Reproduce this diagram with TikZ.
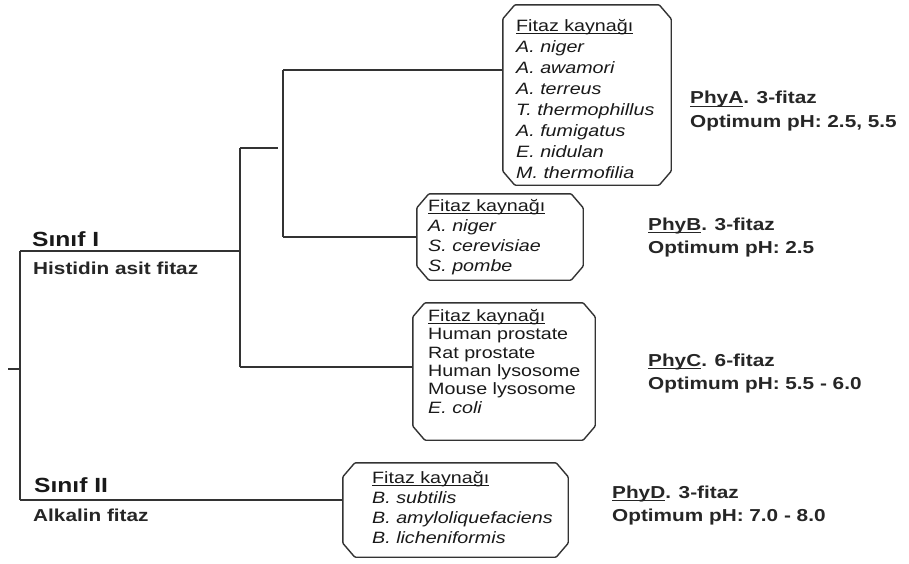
\documentclass[tikz,border=0pt]{standalone}
\usepackage{fontspec}
\setmainfont[FakeStretch=1.2]{Liberation Sans}
\tikzset{
  conn/.style={draw=black!80, line width=1.4pt},
  frame/.style={draw=none, inner sep=0pt},
  boxtext/.style={anchor=north west, inner sep=0pt, align=left, text=black!90},
  lbl/.style={anchor=west, inner sep=0pt, align=left, text=black!85, font=\fontsize{17.3}{23.5}\selectfont\bfseries},
  cls/.style={anchor=west, inner sep=0pt, text=black!90, font=\fontsize{20.5}{24}\selectfont\bfseries},
}
\newcommand\ulin[1]{\setbox0\hbox{#1}\leavevmode\rlap{\rule[-3pt]{\wd0}{1.1pt}}\box0}
\newcommand\chamferbox[1]{%
  \draw[draw=black!80, line width=1.4pt, rounded corners=1pt]
    ([xshift=12pt]#1.north west) -- ([xshift=-12pt]#1.north east) --
    ([yshift=-14pt]#1.north east) -- ([yshift=14pt]#1.south east) --
    ([xshift=-12pt]#1.south east) -- ([xshift=12pt]#1.south west) --
    ([yshift=14pt]#1.south west) -- ([yshift=-14pt]#1.north west) -- cycle;}
\begin{document}
\begin{tikzpicture}[x=1pt,y=-1pt]
\useasboundingbox[fill=white] (0,0) rectangle (909,563);

% box frames
\node[frame, minimum width=168pt, minimum height=180pt] (boxA) at (587,95) {};
\node[frame, minimum width=166pt, minimum height=86pt] (boxB) at (500,237) {};
\node[frame, minimum width=182pt, minimum height=137pt] (boxC) at (504,371.5) {};
\node[frame, minimum width=225pt, minimum height=94pt] (boxD) at (455.5,510) {};
\chamferbox{boxA}
\chamferbox{boxB}
\chamferbox{boxC}
\chamferbox{boxD}

% box contents
\node[boxtext, font=\fontsize{16.4}{21}\selectfont] (txtA) at (516,19)
  {\ulin{Fitaz kaynağı}\\ \textit{A. niger}\\ \textit{A. awamori}\\ \textit{A. terreus}\\
   \textit{T. thermophillus}\\ \textit{A. fumigatus}\\ \textit{E. nidulan}\\ \textit{M. thermofilia}};
\node[boxtext, font=\fontsize{16.4}{20}\selectfont] (txtB) at (428,199)
  {\ulin{Fitaz kaynağı}\\ \textit{A. niger}\\ \textit{S. cerevisiae}\\ \textit{S. pombe}};
\node[boxtext, font=\fontsize{16.4}{18.4}\selectfont] (txtC) at (428,309)
  {\ulin{Fitaz kaynağı}\\ Human prostate\\ Rat prostate\\ Human lysosome\\ Mouse lysosome\\ \textit{E. coli}};
\node[boxtext, font=\fontsize{16.4}{20}\selectfont] (txtD) at (372,471)
  {\ulin{Fitaz kaynağı}\\ \textit{B. subtilis}\\ \textit{B. amyloliquefaciens}\\ \textit{B. licheniformis}};

% right labels
\node[lbl] (phyA) at (690,111) {\ulin{PhyA}. 3-fitaz\\ Optimum pH: 2.5, 5.5};
\node[lbl] (phyB) at (648,237.5) {\ulin{PhyB}. 3-fitaz\\ Optimum pH: 2.5};
\node[lbl] (phyC) at (648,373.5) {\ulin{PhyC}. 6-fitaz\\ Optimum pH: 5.5 - 6.0};
\node[lbl] (phyD) at (612,505.5) {\ulin{PhyD}. 3-fitaz\\ Optimum pH: 7.0 - 8.0};

% left labels
\node[cls] (s1) at (32,239) {Sınıf I};
\node[lbl] (h1) at (33,268) {Histidin asit fitaz};
\node[cls] (s2) at (34,485) {Sınıf II};
\node[lbl] (h2) at (33,515) {Alkalin fitaz};

% tree
\coordinate (tick) at (8,369);
\coordinate (rt) at (20,369);
\coordinate (r1) at (20,251);
\coordinate (r2) at (20,500);
\coordinate (j1) at (240,251);
\coordinate (v1top) at (240,148);
\coordinate (v1bot) at (240,367);
\coordinate (stub) at (278,148);
\coordinate (v2top) at (283,70);
\coordinate (v2bot) at (283,237);

\draw[conn] (tick) -- (rt);
\draw[conn] (r1) -- (r2);
\draw[conn] (r1) -- (j1);
\draw[conn] (v1top) -- (v1bot);
\draw[conn] (v1top) -- (stub);
\draw[conn] (v2top) -- (v2bot);
\draw[conn] (v2top) -- (v2top -| boxA.west);
\draw[conn] (v2bot) -- (boxB.west);
\draw[conn] (v1bot) -- (v1bot -| boxC.west);
\draw[conn] (r2) -- (r2 -| boxD.west);
\end{tikzpicture}
\end{document}
